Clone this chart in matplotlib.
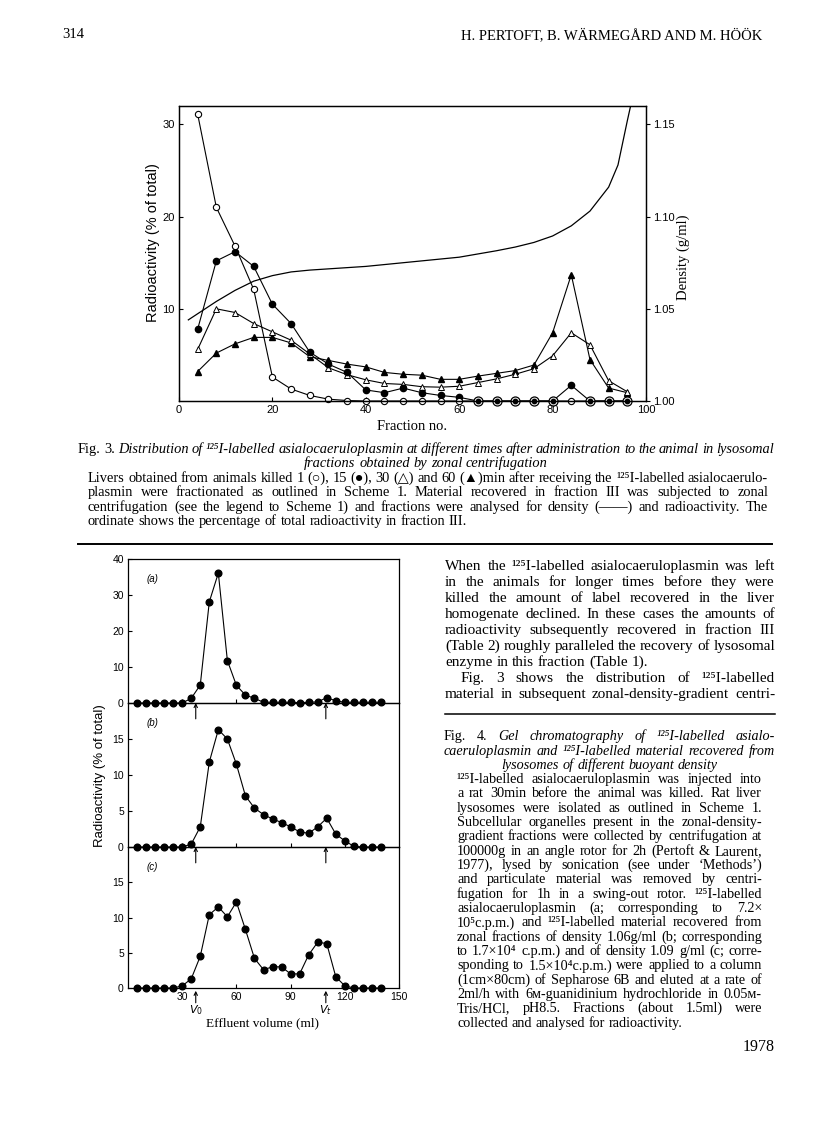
import matplotlib
matplotlib.use('Agg')
import matplotlib.pyplot as plt
import numpy as np

W, H = 816, 1136
SERIF = ['Liberation Serif', 'DejaVu Serif', 'DejaVu Sans']
SANS = ['Liberation Sans', 'DejaVu Sans']

# ---- Fig. 3 data (fraction no. / % of total, density g/ml) ----
frac = [4, 8, 12, 16, 20, 24, 28, 32, 36, 40, 44, 48,
        52, 56, 60, 64, 68, 72, 76, 80, 84, 88, 92, 96]
min1 = [31.1, 21.0, 16.8, 12.1, 2.6, 1.3, 0.6, 0.2, 0.05, 0, 0, 0,
        0, 0, 0, 0, 0, 0, 0, 0, 0, 0, 0, 0]
min15 = [7.8, 15.2, 16.2, 14.6, 10.5, 8.4, 5.3, 4.0, 3.1, 1.2, 0.9, 1.4,
         0.9, 0.6, 0.4, 0, 0, 0, 0, 0, 1.7, 0, 0, 0]
min30 = [5.6, 10.0, 9.6, 8.4, 7.5, 6.6, 5.1, 3.6, 2.85, 2.3, 1.9, 1.8,
         1.55, 1.5, 1.6, 2.0, 2.4, 2.9, 3.5, 4.9, 7.4, 6.1, 2.2, 1.0]
min60 = [3.2, 5.2, 6.2, 6.9, 6.9, 6.3, 4.8, 4.4, 4.0, 3.7, 3.1, 2.9,
         2.8, 2.35, 2.35, 2.7, 3.0, 3.3, 3.9, 7.4, 13.7, 4.5, 1.4, 0.9]
dens_x = [2, 8, 12, 16, 20, 24, 28, 40, 52, 60, 68, 72, 76, 80, 84, 88, 92, 94, 96, 96.7]
dens = [1.044, 1.054, 1.060, 1.065, 1.068, 1.070, 1.071, 1.073, 1.076, 1.078,
        1.0815, 1.0835, 1.086, 1.0895, 1.095, 1.103, 1.116, 1.128, 1.152, 1.16]

# ---- Fig. 4 data (effluent volume ml / % of total) ----
vol = [5, 10, 15, 20, 25, 30, 35, 40, 45, 50, 55, 60, 65, 70,
       75, 80, 85, 90, 95, 100, 105, 110, 115, 120, 125, 130, 135, 140]
gel_a = [0, 0, 0, 0, 0, 0, 1.3, 5.0, 28.1, 36.1, 11.8, 4.9, 2.2, 1.3,
         0.2, 0.2, 0.2, 0.2, 0.1, 0.2, 0.3, 1.5, 0.6, 0.2, 0.2, 0.2, 0.2, 0.2]
gel_b = [0, 0, 0, 0, 0, 0, 0.4, 2.8, 11.8, 16.3, 15.0, 11.5, 7.1, 5.4,
         4.5, 3.9, 3.4, 2.8, 2.1, 1.9, 2.8, 4.0, 1.8, 0.85, 0.1, 0, 0, 0]
gel_c = [0, 0, 0, 0, 0, 0.3, 1.3, 4.5, 10.4, 11.5, 10.1, 12.2, 8.3, 4.2,
         2.6, 3.0, 3.0, 2.0, 2.0, 4.7, 6.5, 6.3, 1.6, 0.3, 0, 0, 0, 0]
v0, vt = 37.5, 109.5

fig = plt.figure(figsize=(W / 100, H / 100), dpi=100)
renderer = fig.canvas.get_renderer()


def box(x0, y0, x1, y1):
    return [x0 / W, 1 - y1 / H, (x1 - x0) / W, (y1 - y0) / H]


def ftext(x, y, s, **kw):
    return fig.text(x / W, 1 - y / H, s, **kw)


def put_line(s, x0, x1, y, size, mode='justify'):
    # text between _ ... _ is italic; y is the middle of the lower-case letters
    words, it = [], False
    for tok in s.split(' '):
        clean, first = '', None
        for ch in tok:
            if ch == '_':
                it = not it
                continue
            if first is None:
                first = it
            clean += ch
        words.append((clean, bool(first)))
    base = y + 0.25 * size * 100 / 72
    texts = [ftext(0, base, w, fontsize=size, family=SERIF, va='baseline',
                   style='italic' if i else 'normal') for w, i in words]
    widths = [t.get_window_extent(renderer).width for t in texts]
    gap = 0.25 * size * 100 / 72
    if mode == 'justify' and len(texts) > 1:
        mingap = 0.19 * size * 100 / 72
        f = (x1 - x0) / (sum(widths) + mingap * (len(texts) - 1))
        if f < 1.0:
            for t in texts:
                t.set_fontsize(size * f)
            widths = [t.get_window_extent(renderer).width for t in texts]
        gap = (x1 - x0 - sum(widths)) / (len(texts) - 1)
    total = sum(widths) + gap * (len(texts) - 1)
    x = x0 if mode in ('justify', 'left') else (x0 + x1) / 2 - total / 2
    for t, wd in zip(texts, widths):
        t.set_x(x / W)
        x += wd + gap


# ---- header ----
ftext(62, 35, '314', fontsize=10.5, family=SERIF, va='center')
ftext(762, 35, 'H. PERTOFT, B. WÄRMEGÅRD AND M. HÖÖK', fontsize=10.5,
      family=SERIF, va='center', ha='right')

# ---- Fig. 3 ----
ax3 = fig.add_axes(box(179, 106, 646, 401))
ax3.plot(frac, min60, '-', color='k', lw=0.8, marker='^', ms=4, mfc='k', mec='k', clip_on=False)
ax3.plot(frac, min30, '-', color='k', lw=0.8, marker='^', ms=4.3, mfc='white', mec='k', mew=0.7, clip_on=False)
ax3.plot(frac, min15, '-', color='k', lw=0.8, marker='o', ms=4.5, mfc='k', mec='k', clip_on=False)
ax3.plot(frac, min1, '-', color='k', lw=0.8, marker='o', ms=4.5, mfc='white', mec='k', mew=0.8, clip_on=False)
both0 = (np.array(min1) == 0) & (np.array(min15) == 0)
fx = np.array(frac)[both0]
ax3.plot(fx, np.zeros(len(fx)), 'o', ms=6.5, mfc='white', mec='k', mew=0.9, clip_on=False, zorder=5)
ax3.plot(fx, np.zeros(len(fx)), 'o', ms=3.2, mfc='k', mec='k', clip_on=False, zorder=6)
ax3.set_xlim(0, 100)
ax3.set_ylim(0, 32)
ax3.set_xticks([0, 20, 40, 60, 80, 100])
ax3.set_yticks([10, 20, 30])
ax3.tick_params(axis='both', direction='in', length=3, width=0.8, labelsize=8, pad=3)
for lab in ax3.get_xticklabels() + ax3.get_yticklabels():
    lab.set_family(SANS)
axd = ax3.twinx()
axd.plot(dens_x, dens, '-', color='k', lw=0.9)
axd.set_ylim(1.0, 1.16)
axd.set_yticks([1.00, 1.05, 1.10, 1.15])
axd.set_yticklabels(['1.00', '1.05', '1.10', '1.15'])
axd.tick_params(axis='y', direction='out', length=3, width=0.8, labelsize=8, pad=2)
for lab in axd.get_yticklabels():
    lab.set_family(SANS)
for a in (ax3, axd):
    for sp in a.spines.values():
        sp.set_linewidth(0.9)
ftext(153, 243, 'Radioactivity (% of total)', fontsize=10.5, family=SANS,
      rotation=90, ha='center', va='center')
ftext(683, 257, 'Density (g/ml)', fontsize=10.5, family=SERIF,
      rotation=90, ha='center', va='center')
ftext(412, 427, 'Fraction no.', fontsize=10.5, family=SERIF, ha='center', va='center')

# Fig. 3 caption
C3 = 10.4
put_line('Fig. 3. _Distribution of ¹²⁵I-labelled asialocaeruloplasmin at different times '
         'after administration to the animal in lysosomal_', 78, 774, 449, C3)
put_line('_fractions obtained by zonal centrifugation_', 78, 774, 463.5, C3, mode='center')
put_line('Livers obtained from animals killed 1 (○), 15 (●), 30 (△) and 60 (▲)min after '
         'receiving the ¹²⁵I-labelled asialocaerulo-', 88, 768, 478, C3)
put_line('plasmin were fractionated as outlined in Scheme 1. Material recovered in fraction '
         'III was subjected to zonal', 88, 768, 492.5, C3)
put_line('centrifugation (see the legend to Scheme 1) and fractions were analysed for density '
         '(——) and radioactivity. The', 88, 768, 507, C3)
put_line('ordinate shows the percentage of total radioactivity in fraction III.',
         88, 768, 521.5, C3, mode='left')

fig.add_artist(plt.Line2D([78 / W, 772 / W], [1 - 544 / H] * 2, color='k', lw=1.4))

# ---- Fig. 4 ----
panels = [(gel_a, (559, 703), 40, [0, 10, 20, 30, 40], '(a)'),
          (gel_b, (703, 847), 20, [0, 5, 10, 15], '(b)'),
          (gel_c, (847, 988), 20, [0, 5, 10, 15], '(c)')]
for k, (vals, (top, bot), ymax, yt, tag) in enumerate(panels):
    ax = fig.add_axes(box(128, top, 399, bot))
    ax.set_facecolor('none')
    ax.plot(vol, vals, '-', color='k', lw=0.8, marker='o', ms=4.8, mfc='k', mec='k', clip_on=False)
    ax.set_xlim(0, 150)
    ax.set_ylim(0, ymax)
    ax.set_yticks(yt)
    last = k == 2
    ax.set_xticks([30, 60, 90, 120, 150] if last else [30, 60, 90, 120])
    ax.tick_params(axis='both', direction='in', length=3, width=0.8, labelsize=7.5, pad=3,
                   labelbottom=last)
    for lab in ax.get_xticklabels() + ax.get_yticklabels():
        lab.set_family(SANS)
    for sp in ax.spines.values():
        sp.set_linewidth(0.9)
    ax.text(0.07, 0.84, tag, transform=ax.transAxes, fontsize=7, family=SANS, style='italic')
    tr = ax.get_xaxis_transform()
    for xv in (v0, vt):
        ax.annotate('', xy=(xv, -0.02 if last else 0), xycoords=tr,
                    xytext=(xv, -0.105 if last else -0.11), textcoords=tr,
                    arrowprops=dict(arrowstyle='->', lw=0.8, color='k', shrinkA=0, shrinkB=0,
                                    mutation_scale=6),
                    annotation_clip=False)
    if last:
        ax.text(v0, -0.16, r'$V_0$', transform=tr, ha='center', va='center', fontsize=8)
        ax.text(vt, -0.16, r'$V_t$', transform=tr, ha='center', va='center', fontsize=8)

ftext(100, 776, 'Radioactivity (% of total)', fontsize=9.5, family=SANS,
      rotation=90, ha='center', va='center')
ftext(262, 1023, 'Effluent volume (ml)', fontsize=9.5, family=SERIF, ha='center', va='center')

# ---- right column text ----
B = 11.0
body = ['When the ¹²⁵I-labelled asialocaeruloplasmin was left',
        'in the animals for longer times before they were',
        'killed the amount of label recovered in the liver',
        'homogenate declined. In these cases the amounts of',
        'radioactivity subsequently recovered in fraction III',
        '(Table 2) roughly paralleled the recovery of lysosomal',
        'enzyme in this fraction (Table 1).']
for i, s in enumerate(body):
    put_line(s, 445, 775, 566.5 + 16 * i, B,
             mode='left' if i == len(body) - 1 else 'justify')
put_line('Fig. 3 shows the distribution of ¹²⁵I-labelled', 461, 775, 678.5, B)
put_line('material in subsequent zonal-density-gradient centri-', 445, 775, 694.5, B)
fig.add_artist(plt.Line2D([445 / W, 775 / W], [1 - 714 / H] * 2, color='k', lw=1.1))

F = 10.2
put_line('Fig. 4. _Gel chromatography of ¹²⁵I-labelled asialo-_', 444, 775, 736, F)
put_line('_caeruloplasmin and ¹²⁵I-labelled material recovered from_', 444, 775, 751, F)
put_line('_lysosomes of different buoyant density_', 444, 775, 765.5, F, mode='center')
cap = ['¹²⁵I-labelled asialocaeruloplasmin was injected into',
       'a rat 30min before the animal was killed. Rat liver',
       'lysosomes were isolated as outlined in Scheme 1.',
       'Subcellular organelles present in the zonal-density-',
       'gradient fractions were collected by centrifugation at',
       '100000g in an angle rotor for 2h (Pertoft & Laurent,',
       '1977), lysed by sonication (see under ‘Methods’)',
       'and particulate material was removed by centri-',
       'fugation for 1h in a swing-out rotor. ¹²⁵I-labelled',
       'asialocaeruloplasmin (_a;_ corresponding to 7.2×',
       '10⁵c.p.m.) and ¹²⁵I-labelled material recovered from',
       'zonal fractions of density 1.06g/ml (_b;_ corresponding',
       'to 1.7×10⁴ c.p.m.) and of density 1.09 g/ml (_c;_ corre-',
       'sponding to 1.5×10⁴c.p.m.) were applied to a column',
       '(1cm×80cm) of Sepharose 6B and eluted at a rate of',
       '2ml/h with 6ᴍ-guanidinium hydrochloride in 0.05ᴍ-',
       'Tris/HCl, pH8.5. Fractions (about 1.5ml) were',
       'collected and analysed for radioactivity.']
for i, s in enumerate(cap):
    put_line(s, 457, 762, 779.5 + 14.33 * i, F,
             mode='left' if i == len(cap) - 1 else 'justify')

ftext(775, 1047, '1978', fontsize=11.5, family=SERIF, ha='right', va='center')

fig.savefig('out.png', dpi=100)
